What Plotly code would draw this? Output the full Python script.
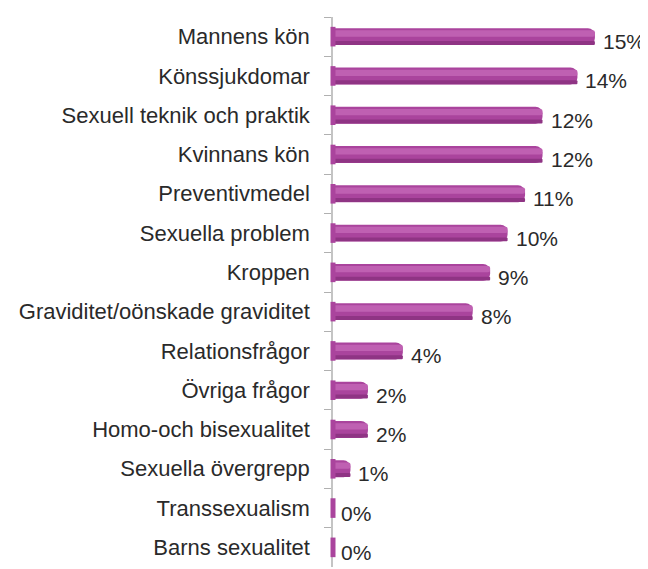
import plotly.graph_objects as go

categories = [
    "Mannens kön",
    "Könssjukdomar",
    "Sexuell teknik och praktik",
    "Kvinnans kön",
    "Preventivmedel",
    "Sexuella problem",
    "Kroppen",
    "Graviditet/oönskade graviditet",
    "Relationsfrågor",
    "Övriga frågor",
    "Homo-och bisexualitet",
    "Sexuella övergrepp",
    "Transsexualism",
    "Barns sexualitet",
]
values = [15, 14, 12, 12, 11, 10, 9, 8, 4, 2, 2, 1, 0, 0]
value_labels = [f"{v}%" for v in values]

BASE = "#AA449D"
LIGHT = "#BF60B2"
DARK = "#8F3484"

fig = go.Figure()

# base cylinder body
fig.add_trace(go.Bar(
    x=values, y=categories, orientation="h",
    width=0.43, offset=-0.215,
    marker=dict(color=BASE, line=dict(width=0), cornerradius="45%"),
    hoverinfo="skip", showlegend=False,
))
# lower shadow band
fig.add_trace(go.Bar(
    x=values, y=categories, orientation="h",
    width=0.1, offset=0.11,
    marker=dict(color=DARK, line=dict(width=0), cornerradius="45%"),
    hoverinfo="skip", showlegend=False,
))
# upper highlight band
fig.add_trace(go.Bar(
    x=values, y=categories, orientation="h",
    width=0.16, offset=-0.16,
    marker=dict(color=LIGHT, line=dict(width=0), cornerradius="45%"),
    hoverinfo="skip", showlegend=False,
))
# cylinder base caps (visible for zero values)
fig.add_trace(go.Scatter(
    x=[0] * len(categories), y=categories, mode="markers",
    marker=dict(symbol="line-ns", size=14, line=dict(width=5, color=BASE)),
    hoverinfo="skip", showlegend=False, cliponaxis=False,
))

annotations = [
    dict(x=v, y=c, text=t, xref="x", yref="y", showarrow=False,
         xanchor="left", yanchor="middle", xshift=6, yshift=-5,
         font=dict(family="Liberation Sans, Arial, sans-serif", size=21, color="#2a2a2a"))
    for v, c, t in zip(values, categories, value_labels)
]

fig.update_layout(
    width=648, height=569,
    margin=dict(l=325, r=48, t=9, b=10, autoexpand=False),
    paper_bgcolor="white", plot_bgcolor="white",
    barmode="overlay",
    annotations=annotations,
    font=dict(family="Liberation Sans, Arial, sans-serif", size=22, color="#2a2a2a"),
)
fig.update_xaxes(
    range=[0, max(values) * 1.05],
    visible=False, showgrid=False, zeroline=False, automargin=False,
)
fig.update_yaxes(
    type="category", categoryorder="array", categoryarray=categories,
    range=[len(categories) - 0.5, -0.5], automargin=False,
    showline=True, linecolor="#C4C4C4", linewidth=1.5,
    ticks="outside", tickson="boundaries", ticklen=7, tickcolor="#B0B0B0",
    ticklabelstandoff=17, layer="below traces",
    showgrid=False, zeroline=False,
    tickfont=dict(size=22, color="#2a2a2a"),
)

fig.write_html("out.html")
